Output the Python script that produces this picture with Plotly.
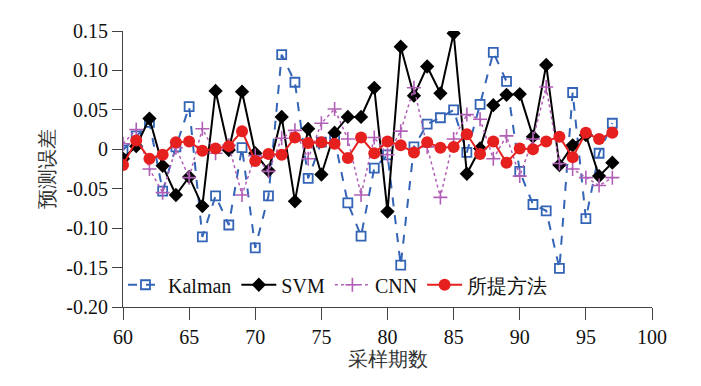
import plotly.graph_objects as go

periods = [60, 61, 62, 63, 64, 65, 66, 67, 68, 69, 70, 71, 72, 73, 74, 75, 76, 77, 78,
           79, 80, 81, 82, 83, 84, 85, 86, 87, 88, 89, 90, 91, 92, 93, 94, 95, 96, 97]

kalman = [-0.001, 0.017, 0.034, -0.053, 0.003, 0.054, -0.111, -0.059, -0.096, 0.002,
          -0.125, -0.059, 0.120, 0.085, -0.037, 0.009, 0.012, -0.068, -0.110, -0.024,
          -0.007, -0.147, 0.003, 0.032, 0.040, 0.050, -0.004, 0.057, 0.123, 0.086,
          -0.028, -0.070, -0.078, -0.151, 0.072, -0.088, -0.005, 0.033]
svm = [-0.012, 0.004, 0.039, -0.021, -0.058, -0.035, -0.072, 0.074, -0.001, 0.073,
       -0.005, -0.027, 0.041, -0.066, 0.026, -0.032, 0.021, 0.041, 0.041, 0.078,
       -0.079, 0.130, 0.068, 0.105, 0.071, 0.147, -0.031, 0.001, 0.056, 0.069,
       0.070, 0.016, 0.107, -0.020, 0.005, 0.018, -0.034, -0.017]
cnn = [0.007, 0.025, -0.025, -0.055, 0.002, -0.036, 0.026, -0.005, 0.005, -0.058,
       -0.008, -0.028, 0.014, 0.024, -0.012, 0.033, 0.051, 0.013, -0.058, 0.015,
       -0.007, 0.023, 0.078, 0.003, -0.061, 0.013, 0.044, 0.038, -0.012, 0.017,
       -0.034, 0.013, 0.079, -0.018, -0.025, -0.036, -0.046, -0.036]
proposed = [-0.020, 0.011, -0.012, -0.007, 0.009, 0.010, -0.002, 0.001, 0.004, 0.023,
            -0.015, -0.006, -0.007, 0.015, 0.008, 0.009, 0.007, -0.011, 0.015, -0.005,
            0.010, 0.005, -0.004, 0.009, 0.002, 0.003, 0.019, -0.006, 0.010, -0.017,
            0.001, 0.000, 0.010, 0.016, -0.010, 0.021, 0.013, 0.021]

series_names = ["Kalman", "SVM", "CNN", "所提方法"]

y_tickvals = [0.15, 0.10, 0.05, 0, -0.05, -0.10, -0.15, -0.20]
y_ticktext = ["0.15", "0.10", "0.05", "0", "-0.05", "-0.10", "-0.15", "-0.20"]
x_tickvals = [60, 65, 70, 75, 80, 85, 90, 95, 100]

FONT = "Liberation Serif, DejaVu Serif, serif"

fig = go.Figure()
fig.add_trace(go.Scatter(
    x=periods, y=kalman, name=series_names[0], mode="lines+markers",
    line=dict(color="#3464b6", width=2, dash="dash"),
    marker=dict(symbol="square-open", size=9, color="#3464b6", line=dict(width=1.8)),
))
fig.add_trace(go.Scatter(
    x=periods, y=svm, name=series_names[1], mode="lines+markers",
    line=dict(color="#000000", width=2),
    marker=dict(symbol="diamond", size=11, color="#000000"),
))
fig.add_trace(go.Scatter(
    x=periods, y=cnn, name=series_names[2], mode="lines+markers",
    line=dict(color="#b15fb6", width=1.5, dash="dot"),
    marker=dict(symbol="cross-thin-open", size=10, color="#b15fb6", line=dict(width=1.6, color="#b15fb6")),
))
fig.add_trace(go.Scatter(
    x=periods, y=proposed, name=series_names[3], mode="lines+markers",
    line=dict(color="#e5201e", width=2),
    marker=dict(symbol="circle", size=12, color="#e5201e"),
))

fig.update_layout(
    width=701, height=386,
    margin=dict(l=115, r=57, t=19, b=87),
    paper_bgcolor="white", plot_bgcolor="white",
    font=dict(family=FONT, size=20, color="#111111"),
    showlegend=True,
    legend=dict(
        orientation="h", x=0.0, y=0.01, xanchor="left", yanchor="bottom",
        bgcolor="rgba(0,0,0,0)", font=dict(size=20, family=FONT),
        itemwidth=35, tracegroupgap=0,
    ),
)
fig.update_xaxes(
    range=[60, 100], tickvals=x_tickvals, ticks="outside", ticklen=12,
    showline=True, linecolor="#444444", linewidth=1.2, tickcolor="#444444",
    showgrid=False, zeroline=False,
    title=dict(text="采样期数", font=dict(size=20, color="#333333"), standoff=0),
    tickfont=dict(size=20),
)
fig.update_yaxes(
    range=[-0.20, 0.15], tickvals=y_tickvals, ticktext=y_ticktext,
    ticks="outside", ticklen=10,
    showline=True, linecolor="#444444", linewidth=1.2, tickcolor="#444444",
    showgrid=False, zeroline=False,
    title=dict(text="预测误差", font=dict(size=20, color="#333333"), standoff=6),
    tickfont=dict(size=20),
)

fig.write_html("out.html")
